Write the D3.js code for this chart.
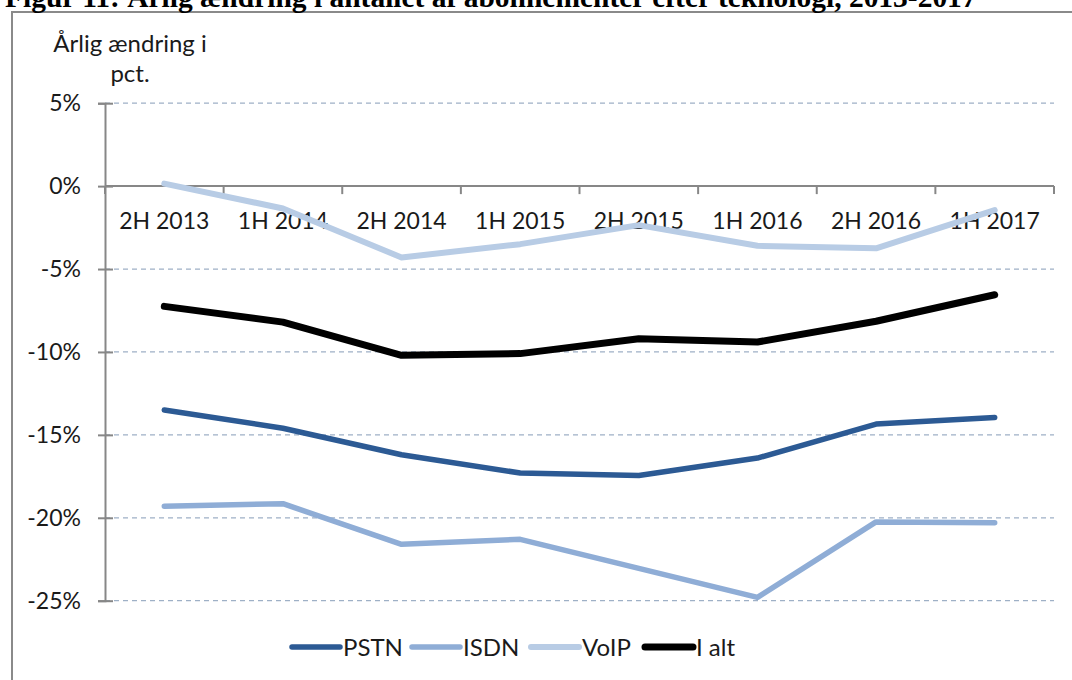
<!DOCTYPE html>
<html>
<head>
<meta charset="utf-8">
<script src="https://cdn.jsdelivr.net/npm/d3@7"></script>
<style>
  body { margin: 0; background: #fff; }
  text { font-family: Lato, "Open Sans", sans-serif; fill: #1a1a1a; }
</style>
</head>
<body>
<div id="chart"></div>
<script>
const WIDTH = 1072, HEIGHT = 680;

// periods on the x axis
const periods = ["2H 2013", "1H 2014", "2H 2014", "1H 2015", "2H 2015", "1H 2016", "2H 2016", "1H 2017"];
// annual change in pct
const pstn = [-13.5, -14.6, -16.2, -17.3, -17.45, -16.4, -14.35, -13.95];
const isdn = [-19.3, -19.15, -21.6, -21.3, -23.05, -24.8, -20.25, -20.3];
const voip = [0.15, -1.35, -4.3, -3.5, -2.35, -3.6, -3.75, -1.45];
const iAlt = [-7.25, -8.2, -10.2, -10.1, -9.2, -9.4, -8.15, -6.55];
const yTicks = [5, 0, -5, -10, -15, -20, -25];

const seriesNames = ["PSTN", "ISDN", "VoIP", "I alt"];
const seriesColors = ["#2c5a94", "#8fadd6", "#b8cce5", "#000000"];
const seriesWidths = [5.5, 5.5, 6, 7];

const series = [pstn, isdn, voip, iAlt].map((vals, i) => ({
  name: seriesNames[i], color: seriesColors[i], width: seriesWidths[i], values: vals
}));

const svg = d3.select("#chart").append("svg")
  .attr("width", WIDTH)
  .attr("height", HEIGHT);

// frame of the figure box
svg.append("rect")
  .attr("x", 12).attr("y", 12)
  .attr("width", 1100).attr("height", 720)
  .attr("fill", "none")
  .attr("stroke", "#8a8a8a")
  .attr("stroke-width", 2);

// title, cut off at the top edge like the scan
const title = svg.append("text")
  .attr("x", 5)
  .attr("y", 7)
  .style("font-family", "'Liberation Serif', 'Times New Roman', serif")
  .style("font-weight", "bold")
  .style("font-size", "26px")
  .style("fill", "#000")
  .text("Figur 11: Årlig ændring i antallet af abonnementer efter teknologi, 2013-2017");
const tw = title.node().getComputedTextLength();
title.style("font-size", (26 * 972 / tw) + "px");

const x = d3.scalePoint()
  .domain(periods)
  .range([105, 1054])
  .padding(0.5);

const y = d3.scaleLinear()
  .domain([-25, 5])
  .range([600.7, 103.2]);

// dashed gridlines
svg.append("g")
  .selectAll("line")
  .data(yTicks.filter(d => d !== 0))
  .join("line")
  .attr("x1", 105).attr("x2", 1054)
  .attr("y1", d => y(d)).attr("y2", d => y(d))
  .attr("stroke", "#9eb0c6")
  .attr("stroke-width", 1.2)
  .attr("stroke-dasharray", "5 4");

// y axis
const yAxis = svg.append("g")
  .attr("transform", "translate(105,0)")
  .call(d3.axisLeft(y).tickValues(yTicks).tickFormat(d => d + "%").tickSize(7).tickPadding(17));
yAxis.select(".domain").attr("stroke", "#878787").attr("stroke-width", 2);
yAxis.selectAll(".tick line").attr("stroke", "#878787").attr("stroke-width", 2)
  .attr("x2", -7).attr("x1", 8);
yAxis.selectAll(".tick text")
  .style("font-family", "Lato, sans-serif")
  .style("font-size", "23px")
  .attr("fill", "#1a1a1a");

// x axis sitting at 0%
const xEdges = d3.range(periods.length + 1).map(i => 105 + i * (949 / periods.length));
const xAxis = svg.append("g")
  .attr("transform", `translate(0,${y(0)})`);
xAxis.append("line")
  .attr("x1", 105).attr("x2", 1054)
  .attr("stroke", "#878787").attr("stroke-width", 2);
xAxis.selectAll(".edge")
  .data(xEdges)
  .join("line")
  .attr("class", "edge")
  .attr("x1", d => d).attr("x2", d => d)
  .attr("y1", 0).attr("y2", 8)
  .attr("stroke", "#878787").attr("stroke-width", 2);

// lines
const line = d3.line()
  .x((d, i) => x(periods[i]))
  .y(d => y(d));

svg.append("g")
  .selectAll("path")
  .data(series)
  .join("path")
  .attr("d", d => line(d.values))
  .attr("fill", "none")
  .attr("stroke", d => d.color)
  .attr("stroke-width", d => d.width)
  .attr("stroke-linecap", "round")
  .attr("stroke-linejoin", "round");

// category labels, drawn over the lines
xAxis.selectAll(".lbl")
  .data(periods)
  .join("text")
  .attr("class", "lbl")
  .attr("x", d => x(d))
  .attr("y", 43)
  .attr("text-anchor", "middle")
  .style("font-size", "23px")
  .text(d => d);

// y axis title
const yTitle = svg.append("text")
  .attr("text-anchor", "middle")
  .style("font-size", "24px");
yTitle.append("tspan").attr("x", 130).attr("y", 52).text("Årlig ændring i");
yTitle.append("tspan").attr("x", 130).attr("y", 82).text("pct.");

// legend
const legendX = [292, 412, 531, 645];
const lg = svg.append("g")
  .selectAll("g")
  .data(series)
  .join("g")
  .attr("transform", (d, i) => `translate(${legendX[i]},647)`);
lg.append("line")
  .attr("x1", 0).attr("x2", 48)
  .attr("stroke", d => d.color)
  .attr("stroke-width", d => d.width)
  .attr("stroke-linecap", "round");
lg.append("text")
  .attr("x", 51)
  .attr("y", 8.5)
  .style("font-size", "24px")
  .text(d => d.name);
</script>
</body>
</html>
